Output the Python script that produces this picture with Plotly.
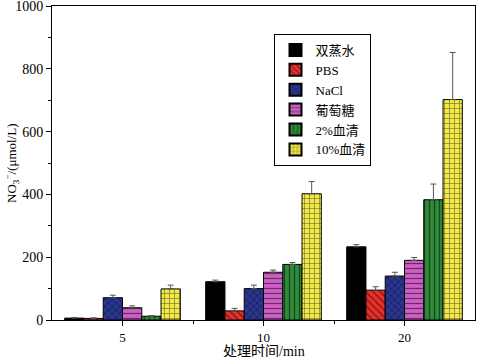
import plotly.graph_objects as go

categories = ["5", "10", "20"]
series_names = ["双蒸水", "PBS", "NaCl", "葡萄糖", "2%血清", "10%血清"]
values = [
    [6, 122, 233],
    [5, 29, 95],
    [71, 100, 140],
    [39, 152, 190],
    [12, 177, 383],
    [99, 402, 702],
]
errors = [
    [2, 5, 7],
    [2, 8, 11],
    [8, 11, 12],
    [6, 7, 9],
    [2, 6, 50],
    [12, 39, 150],
]
colors = ["#000000", "#e8302c", "#2a3590", "#cf5fc8", "#2f8a3a", "#f2ea4a"]
patterns = ["", "\\", "x", "-", "|", "+"]

FONT = "Liberation Serif, Times New Roman, Noto Sans CJK SC"

fig = go.Figure()
xpos = list(range(len(categories)))
for name, vals, errs, col, pat in zip(series_names, values, errors, colors, patterns):
    fig.add_trace(go.Bar(
        name=name, x=xpos, y=vals,
        marker=dict(color=col, line=dict(color="black", width=1),
                    pattern=dict(shape=pat, fgcolor="black", size=5, solidity=0.25)),
        error_y=dict(type="data", array=errs, arrayminus=[0] * len(errs),
                     color="#555555", thickness=1, width=3),
    ))

fig.update_layout(
    width=477, height=357,
    margin=dict(l=52, r=2, t=6, b=37, autoexpand=False),
    paper_bgcolor="white", plot_bgcolor="white",
    barmode="group", bargap=0.18, bargroupgap=0,
    font=dict(family=FONT, size=14, color="black"),
    showlegend=True,
    legend=dict(x=0.526, y=0.911, xanchor="left", yanchor="top",
                bgcolor="white", bordercolor="black", borderwidth=1,
                font=dict(family=FONT, size=13), tracegroupgap=0,
                itemsizing="constant", itemwidth=30),
    annotations=[
        dict(text="处理时间/min", xref="paper", yref="paper", x=0.5, y=0,
             xanchor="center", yanchor="top", yshift=-22, showarrow=False,
             font=dict(family=FONT, size=14)),
        dict(text="NO<sub>3</sub><sup>−</sup>/(μmol/L)", xref="paper", yref="paper",
             x=0, y=0.5, xanchor="center", yanchor="middle", xshift=-40,
             textangle=-90, showarrow=False, font=dict(family=FONT, size=13)),
    ],
)
fig.update_xaxes(
    automargin=False, tickfont=dict(size=13),
    range=[-0.5, 2.5], tickvals=xpos, ticktext=categories,
    showline=True, linecolor="black", linewidth=1, mirror=True,
    ticks="outside", ticklen=5, tickcolor="black",
    minor=dict(tickvals=[0.5, 1.5], ticks="outside", ticklen=3, tickcolor="black"),
    showgrid=False, zeroline=False,
)
fig.update_yaxes(
    automargin=False, ticklabeloverflow="allow",
    range=[0, 1000], dtick=200, tick0=0,
    showline=True, linecolor="black", linewidth=1, mirror=True,
    ticks="outside", ticklen=5, tickcolor="black",
    minor=dict(dtick=100, ticks="outside", ticklen=3, tickcolor="black"),
    showgrid=False, zeroline=False,
)

fig.write_html("out.html", config={"displayModeBar": False},
               post_script="document.body.style.margin='0';")
